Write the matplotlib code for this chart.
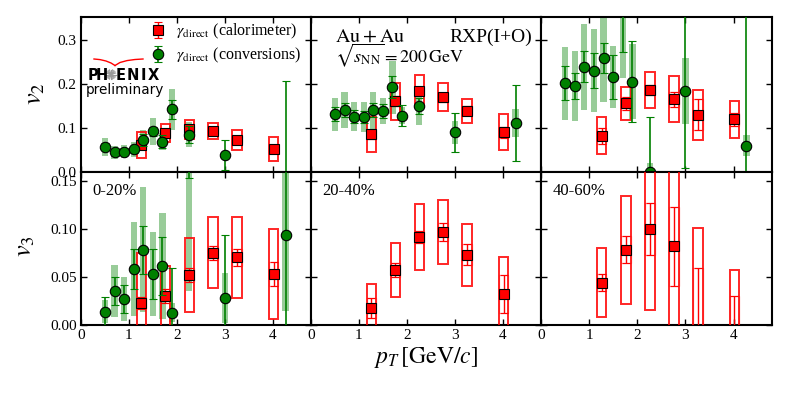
import matplotlib
matplotlib.use('Agg')
import matplotlib.pyplot as plt
from matplotlib.patches import Rectangle
import numpy as np

plt.rcParams['font.family'] = ['Liberation Serif', 'DejaVu Serif']
plt.rcParams['mathtext.fontset'] = 'stix'

# ---------------- data ----------------
pt_calo = [1.26, 1.76, 2.26, 2.76, 3.26, 4.02]
pt_conv = [0.5, 0.7, 0.9, 1.1, 1.3, 1.5, 1.7, 1.9, 2.26, 3.0, 4.27]

# v2, calorimeter (value, stat, sys)
v2_calo_0020 = [0.061, 0.088, 0.097, 0.093, 0.073, 0.052]
v2_calo_0020_stat = [0.008, 0.008, 0.008, 0.007, 0.008, 0.008]
v2_calo_0020_sys = [0.030, 0.020, 0.021, 0.018, 0.022, 0.028]
v2_calo_2040 = [0.086, 0.161, 0.184, 0.170, 0.139, 0.090]
v2_calo_2040_stat = [0.010, 0.012, 0.010, 0.010, 0.010, 0.012]
v2_calo_2040_sys = [0.040, 0.042, 0.036, 0.032, 0.027, 0.041]
v2_calo_4060 = [0.082, 0.156, 0.186, 0.165, 0.130, 0.120]
v2_calo_4060_stat = [0.018, 0.015, 0.012, 0.017, 0.035, 0.015]
v2_calo_4060_sys = [0.042, 0.037, 0.040, 0.052, 0.057, 0.042]

# v2, conversions
v2_conv_0020 = [0.057, 0.045, 0.046, 0.052, 0.073, 0.092, 0.069, 0.142, 0.085, 0.038, -0.060]
v2_conv_0020_stat = [0.008, 0.008, 0.008, 0.008, 0.013, 0.011, 0.015, 0.022, 0.019, 0.034, 0.267]
v2_conv_0020_sys = [0.020, 0.015, 0.015, 0.017, 0.023, 0.030, 0.019, 0.047, 0.028, 0.010, 0.030]
v2_conv_2040 = [0.131, 0.141, 0.126, 0.125, 0.140, 0.139, 0.192, 0.128, 0.150, 0.090, 0.111]
v2_conv_2040_stat = [0.016, 0.016, 0.014, 0.014, 0.016, 0.016, 0.025, 0.024, 0.018, 0.044, 0.086]
v2_conv_2040_sys = [0.038, 0.040, 0.033, 0.034, 0.042, 0.030, 0.060, 0.020, 0.043, 0.026, 0.032]
v2_conv_4060 = [0.202, 0.195, 0.239, 0.230, 0.258, 0.216, 0.390, 0.205, 0.001, 0.184, 0.060]
v2_conv_4060_stat = [0.038, 0.029, 0.035, 0.040, 0.034, 0.050, 0.118, 0.092, 0.125, 0.176, 0.350]
v2_conv_4060_sys = [0.083, 0.080, 0.098, 0.094, 0.100, 0.070, 0.177, 0.085, 0.020, 0.075, 0.024]

# v3, calorimeter
v3_calo_0020 = [0.023, 0.030, 0.052, 0.075, 0.0705, 0.053]
v3_calo_0020_stat = [0.006, 0.007, 0.007, 0.007, 0.009, 0.012]
v3_calo_0020_sys = [0.052, 0.031, 0.038, 0.037, 0.042, 0.047]
v3_calo_2040 = [0.0177, 0.0573, 0.0913, 0.0965, 0.0729, 0.0323]
v3_calo_2040_stat = [0.010, 0.007, 0.006, 0.009, 0.011, 0.020]
v3_calo_2040_sys = [0.025, 0.028, 0.034, 0.033, 0.032, 0.038]
v3_calo_4060 = [0.044, 0.078, 0.100, 0.082, -0.005, -0.010]
v3_calo_4060_stat = [0.009, 0.014, 0.027, 0.041, 0.064, 0.040]
v3_calo_4060_sys = [0.036, 0.056, 0.084, 0.110, 0.106, 0.067]

# v3, conversions (0-20% only)
v3_conv_0020 = [0.014, 0.0354, 0.027, 0.058, 0.078, 0.053, 0.061, 0.0128, 0.175, 0.028, 0.094]
v3_conv_0020_stat = [0.015, 0.015, 0.015, 0.021, 0.025, 0.026, 0.030, 0.046, 0.022, 0.066, 0.120]
v3_conv_0020_sys = [0.012, 0.027, 0.023, 0.049, 0.065, 0.044, 0.055, 0.010, 0.140, 0.026, 0.079]

centralities = ['0-20%', '20-40%', '40-60%']
x_ticks = [0, 1, 2, 3, 4]
v2_ticks = [0.0, 0.1, 0.2, 0.3]
v3_ticks = [0.00, 0.05, 0.10, 0.15]

# ---------------- figure ----------------
W, H = 790, 395
fig = plt.figure(figsize=(7.9, 3.95), dpi=100)

def fx(px):
    return px / W

def fy(py):
    return 1 - py / H

cols = [81, 311, 541, 772]
rows = [17, 172, 325]

BW = 0.10   # half width of calorimeter boxes
GW = 0.065  # half width of conversion sys bars


def draw_red(ax, x, y, stat, sys):
    for xi, yi, st, sy in zip(x, y, stat, sys):
        ax.add_patch(Rectangle((xi - BW, yi - sy), 2 * BW, 2 * sy, fill=False,
                               ec='red', lw=1.4, alpha=0.85, zorder=3))
        ax.add_patch(Rectangle((xi - BW, yi - st), 2 * BW, 2 * st, fill=False,
                               ec='red', lw=1.0, alpha=0.3, zorder=3))
    return ax.errorbar(x, y, yerr=stat, fmt='s', color='red', mfc='red', mec='black',
                       mew=0.8, ms=7, capsize=3, elinewidth=1.0, capthick=1.0, zorder=5)


def draw_green(ax, x, y, stat, sys):
    for xi, yi, st, sy in zip(x, y, stat, sys):
        ax.add_patch(Rectangle((xi - GW, yi - sy), 2 * GW, 2 * sy, fc='green',
                               ec='none', alpha=0.4, zorder=2))
    return ax.errorbar(x, y, yerr=stat, fmt='o', color='green', mfc='green', mec='black',
                       mew=0.8, ms=7.5, capsize=3, elinewidth=1.2, capthick=1.0, zorder=6)


v2_calo = [(v2_calo_0020, v2_calo_0020_stat, v2_calo_0020_sys),
           (v2_calo_2040, v2_calo_2040_stat, v2_calo_2040_sys),
           (v2_calo_4060, v2_calo_4060_stat, v2_calo_4060_sys)]
v2_conv = [(v2_conv_0020, v2_conv_0020_stat, v2_conv_0020_sys),
           (v2_conv_2040, v2_conv_2040_stat, v2_conv_2040_sys),
           (v2_conv_4060, v2_conv_4060_stat, v2_conv_4060_sys)]
v3_calo = [(v3_calo_0020, v3_calo_0020_stat, v3_calo_0020_sys),
           (v3_calo_2040, v3_calo_2040_stat, v3_calo_2040_sys),
           (v3_calo_4060, v3_calo_4060_stat, v3_calo_4060_sys)]
v3_conv = [(v3_conv_0020, v3_conv_0020_stat, v3_conv_0020_sys), None, None]

for r in range(2):
    for c in range(3):
        ax = fig.add_axes([fx(cols[c]), fy(rows[r + 1]),
                           (cols[c + 1] - cols[c]) / W, (rows[r + 1] - rows[r]) / H])
        ax.set_xlim(0, 4.8)
        if r == 0:
            ax.set_ylim(0, 0.352)
            ax.set_yticks(v2_ticks)
            calo, conv = v2_calo[c], v2_conv[c]
        else:
            ax.set_ylim(0, 0.159)
            ax.set_yticks(v3_ticks)
            calo, conv = v3_calo[c], v3_conv[c]
        ax.set_xticks(x_ticks)
        ax.tick_params(direction='in', top=True, right=True, length=4, width=1,
                       labelsize=11, pad=3)
        if c > 0:
            ax.tick_params(labelleft=False)
        if r == 0:
            ax.tick_params(labelbottom=False)
        for s in ax.spines.values():
            s.set_linewidth(1.5)
        hr = draw_red(ax, pt_calo, *calo)
        hg = None
        if conv is not None:
            hg = draw_green(ax, pt_conv, *conv)
        if r == 0 and c == 0:
            ax.legend([hr, hg],
                      [r'$\gamma_{\mathrm{direct}}$ (calorimeter)',
                       r'$\gamma_{\mathrm{direct}}$ (conversions)'],
                      loc='upper left', bbox_to_anchor=(0.26, 1.03), frameon=False,
                      fontsize=11.5, handlelength=1.0, handletextpad=0.6,
                      labelspacing=0.3, borderaxespad=0.2)
        if r == 1:
            ax.text(0.05, 0.85, centralities[c], transform=ax.transAxes,
                    fontsize=12, va='baseline', ha='left')
        if r == 0 and c == 1:
            ax.text(0.104, 0.837, r'$\mathrm{Au+Au}$', transform=ax.transAxes, fontsize=14.5,
                    va='baseline', ha='left')
            ax.text(0.96, 0.837, 'RXP(I+O)', transform=ax.transAxes, fontsize=14,
                    va='baseline', ha='right')
            ax.text(0.104, 0.708, r'$\sqrt{s_{\mathrm{NN}}}=200\,\mathrm{GeV}$',
                    transform=ax.transAxes, fontsize=13, va='baseline', ha='left')

# axis labels
fig.text(fx(36), fy(94), r'$v_2$', fontsize=19, rotation=90, ha='center', va='center')
fig.text(fx(26), fy(246), r'$v_3$', fontsize=19, rotation=90, ha='center', va='center')
fig.text(fx(426), fy(358), r'$p_T\,[\mathrm{GeV}/c]$', fontsize=17, ha='center', va='center')

# PHENIX preliminary logo (overlay)
ov = fig.add_axes([0, 0, 1, 1])
ov.set_xlim(0, W)
ov.set_ylim(H, 0)
ov.axis('off')
ov.plot([94, 100, 106, 111, 115], [59.0, 59.6, 61.0, 63.0, 65.5], color='red', lw=1.0)
ov.plot([115, 120, 127, 135, 143], [65.5, 62.5, 60.6, 59.5, 59.0], color='red', lw=1.0)
logo_letters = ['P', 'H', 'E', 'N', 'I', 'X']
logo_x = [87.5, 96.0, 116.0, 127.0, 141.0, 147.5]
for ch, lx in zip(logo_letters, logo_x):
    ov.text(lx, 79.5, ch, fontsize=10.5, fontweight='bold', family='DejaVu Sans',
            va='baseline', ha='left')
for a in np.linspace(0, np.pi, 10, endpoint=False):
    ov.plot([111 - 4.8 * np.cos(a), 111 + 4.8 * np.cos(a)],
            [74.5 - 4.8 * np.sin(a), 74.5 + 4.8 * np.sin(a)], color='#9a9a9a', lw=0.8)
ov.text(85.5, 94.3, 'preliminary', fontsize=9.8, family='DejaVu Sans',
        va='baseline', ha='left')

fig.savefig('out.png', dpi=100)
